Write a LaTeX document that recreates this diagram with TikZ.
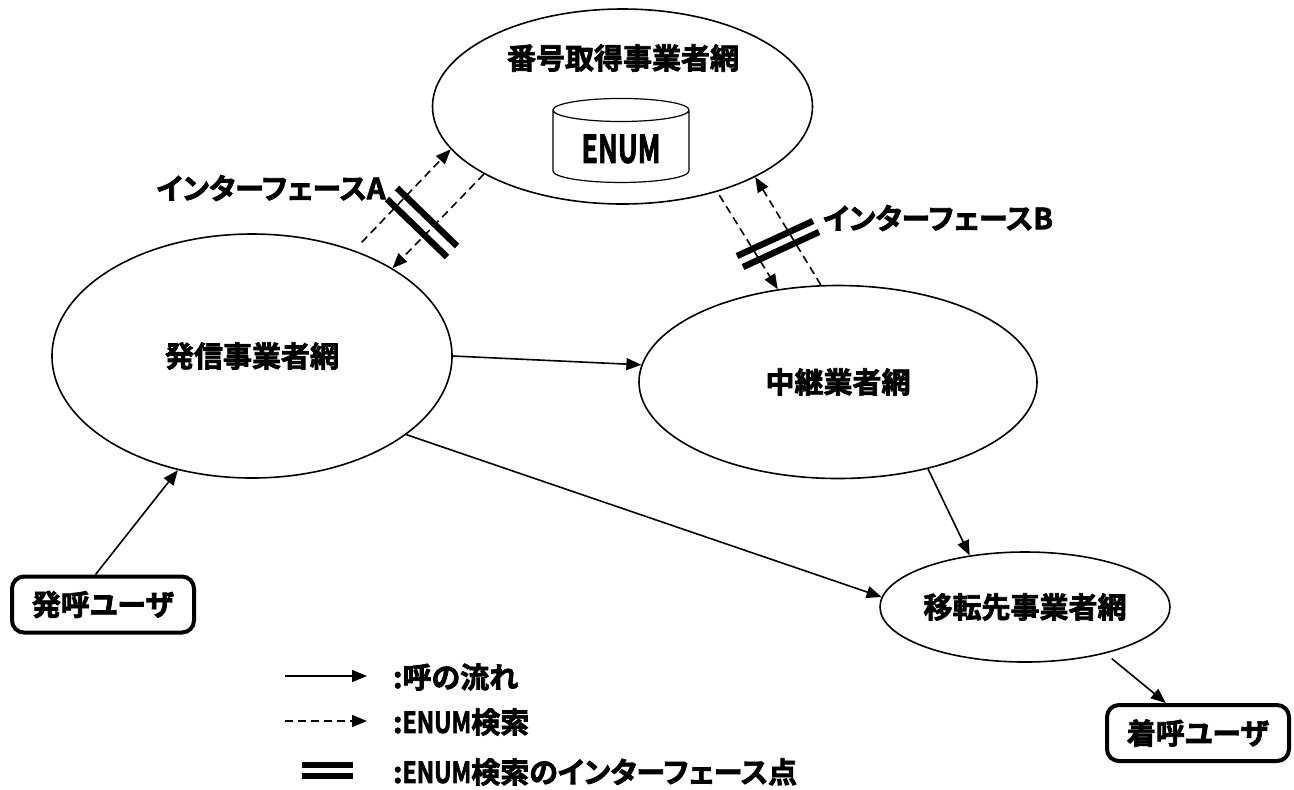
\documentclass[tikz,border=0pt]{standalone}
\usepackage{fontspec}
\setmainfont{Noto Sans CJK JP}[BoldFont={* Bold},BoldFeatures={FakeBold=2.5},RawFeature=+palt]
\usetikzlibrary{arrows.meta,shapes.geometric}
\newcommand{\enumtxt}{\scalebox{0.8}[1]{ENUM}}

\begin{document}
\begin{tikzpicture}[x=0.5pt,y=-0.5pt,
  font=\fontsize{14.5}{17}\selectfont\bfseries,
  net/.style={ellipse,draw,line width=0.8pt,inner sep=0pt},
  user/.style={draw,line width=2pt,rounded corners=6pt,minimum width=91pt,minimum height=28pt,inner sep=0pt},
  flow/.style={line width=0.8pt,-{Triangle[length=7.5pt,width=6pt]}},
  query/.style={flow,dash pattern=on 4pt off 2.5pt},
  bar/.style={line width=3.2pt}]
\useasboundingbox (0,0) rectangle (1294,789);

% networks
\node[net,minimum width=190pt,minimum height=97.5pt] (T) at (622.5,106.5) {};
\node (Tl) at (623,58) {番号取得事業者網};
\node[cylinder,draw,shape border rotate=90,aspect=0.25,minimum width=68pt,minimum height=42pt,line width=0.6pt] (db) at (621,149)
  {\scalebox{0.7}[1]{\fontsize{19}{22}\selectfont ENUM}};
\node[net,minimum width=200pt,minimum height=122pt] (O) at (252,356) {発信事業者網};
\node[net,minimum width=199pt,minimum height=96.5pt] (R) at (838,382) {中継業者網};
\node[net,minimum width=145pt,minimum height=55pt] (D) at (1025,607) {移転先事業者網};

% users
\node[user] (U) at (103,604.5) {発呼ユーザ};
\node[user] (G) at (1198,733) {着呼ユーザ};

% call flow
\draw[flow] (U.104) -- (O.237);
\draw[flow] (O.0) -- (R.175);
\draw[flow] (O.333) -- (D.176);
\draw[flow] (R.316) -- (D.137);
\draw[flow,shorten <=4pt] (D.330) -- (G.137);

% ENUM queries
\draw[query,shorten <=5.5pt] (O.46) -- (T.194);
\draw[query] (T.206) -- (O.32);
\draw[query,shorten <=2pt] (T.318) -- (R.123);
\draw[query] (R.100) -- (T.332);

% interface points
\foreach \a/\b in {397/188, 387/199}
\draw[bar] (\a,\b) -- ++(60,58);
\foreach \a/\b in {737/256, 743/267}
\draw[bar] (\a,\b) -- ++(76,-35);
\node (iA) at (271,188) {インターフェースA};
\node (iB) at (938,218) {インターフェースB};

% legend
\coordinate (k1) at (285,676);
\coordinate (k2) at (285,721);
\draw[flow] (k1) -- ++(82,0);
\draw[query] (k2) -- ++(82,0);
\foreach \y in {765,776}
\draw[bar] (302,\y) -- (353,\y);
\node[anchor=west] (l1) at (386,677) {:呼の流れ};
\node[anchor=west] (l2) at (386,722) {:\enumtxt 検索};
\node[anchor=west] (l3) at (386,772) {:\enumtxt 検索のインターフェース点};
\end{tikzpicture}
\end{document}
